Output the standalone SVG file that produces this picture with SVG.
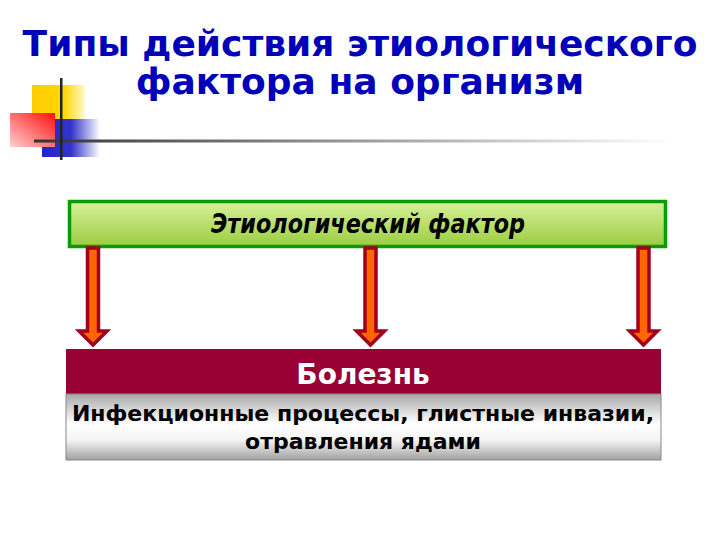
<svg xmlns="http://www.w3.org/2000/svg" width="720" height="540" viewBox="0 0 720 540">
<defs>
<linearGradient id="gGreen" x1="0" y1="0" x2="0" y2="1"><stop offset="0" stop-color="#d6f29a"/><stop offset="1" stop-color="#9ccc40"/></linearGradient>
<linearGradient id="gGray" x1="0" y1="0" x2="0" y2="1"><stop offset="0" stop-color="#a8a8a8"/><stop offset="0.45" stop-color="#ffffff"/><stop offset="0.7" stop-color="#f4f4f4"/><stop offset="1" stop-color="#a0a0a0"/></linearGradient>
<linearGradient id="gLine" x1="0" y1="0" x2="1" y2="0"><stop offset="0" stop-color="#333"/><stop offset="1" stop-color="#fff"/></linearGradient>
<linearGradient id="gYellow" x1="0" y1="0" x2="1" y2="0"><stop offset="0" stop-color="#ffcc00"/><stop offset="0.6" stop-color="#ffd700"/><stop offset="1" stop-color="#fff8d0"/></linearGradient>
<linearGradient id="gRed" x1="1" y1="0" x2="0" y2="1"><stop offset="0" stop-color="#ff1010"/><stop offset="1" stop-color="#ffd0d0"/></linearGradient>
<linearGradient id="gBlue" x1="0" y1="0" x2="1" y2="0"><stop offset="0" stop-color="#2222cc"/><stop offset="0.5" stop-color="#3333cc"/><stop offset="1" stop-color="#ffffff"/></linearGradient>
<path id="arrow" d="M-5.5,0 H5.5 V83 H14 L0,97 L-14,83 H-5.5 Z"/>
</defs>
<style>
.title{font-family:"DejaVu Sans",Verdana,sans-serif;font-weight:bold;font-size:36px;fill:#0000b8;text-anchor:middle}
.arr{fill:#ff6600;stroke:#a3001f;stroke-width:3.5;stroke-linejoin:miter}
.lbl{font-family:"DejaVu Sans",Verdana,sans-serif;font-weight:bold;text-anchor:middle}
</style>
<g id="logo">
<rect x="32" y="85" width="53" height="36" fill="url(#gYellow)"/>
<rect x="42" y="119" width="58" height="38" fill="url(#gBlue)"/>
<rect x="10" y="113" width="45" height="34" fill="url(#gRed)"/>
<rect x="34" y="139.5" width="640" height="3" fill="url(#gLine)"/>
<rect x="60" y="78" width="2.5" height="82" fill="#222"/>
</g>
<g id="title">
<text class="title" x="360" y="56">Типы действия этиологического</text>
<text class="title" x="360" y="94">фактора на организм</text>
</g>
<g id="factor">
<rect x="69.5" y="201.5" width="596" height="45" fill="url(#gGreen)" stroke="#0a9a0a" stroke-width="3.5"/>
<text class="lbl" x="368" y="233" font-size="26" font-style="italic" fill="#000" transform="translate(368 0) scale(0.86 1) translate(-368 0)">Этиологический фактор</text>
</g>
<g id="connectors">
<use href="#arrow" class="arr" x="93" y="248"/>
<use href="#arrow" class="arr" x="370.5" y="248"/>
<use href="#arrow" class="arr" x="643.5" y="248"/>
</g>
<g id="disease">
<rect x="66" y="349" width="595" height="45" fill="#990033"/>
<text class="lbl" x="363" y="384" font-size="28" fill="#fff">Болезнь</text>
</g>
<g id="examples">
<rect x="66" y="394" width="595" height="66" fill="url(#gGray)" stroke="#888" stroke-width="1"/>
<text class="lbl" x="363" y="421" font-size="22" fill="#000">Инфекционные процессы, глистные инвазии,</text>
<text class="lbl" x="363" y="449" font-size="22" fill="#000">отравления ядами</text>
</g>
</svg>
